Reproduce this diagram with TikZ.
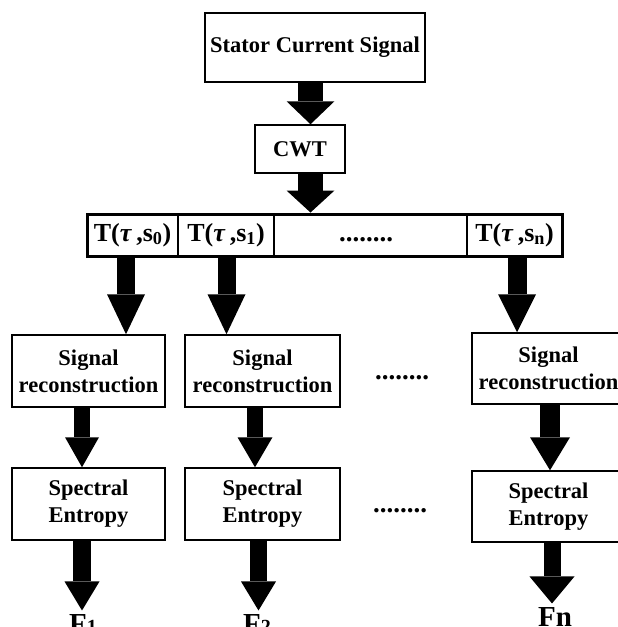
\documentclass[tikz,border=0pt]{standalone}
\usepackage{fontspec}
\setmainfont{Liberation Serif}
\usetikzlibrary{arrows.meta,calc}
\newcommand\Tlab[1]{T(\textit{τ}\,,s\textsubscript{#1})}
\begin{document}
\begin{tikzpicture}[x=1pt,y=-1pt,
  box/.style={draw, line width=1.5pt, fill=white, align=center, inner sep=0pt,
    font=\bfseries\fontsize{22.5}{27}\selectfont},
  cell/.style={draw, line width=1.2pt, inner sep=0pt, minimum height=42pt,
    font=\bfseries\fontsize{26}{27}\selectfont},
  fat/.style n args={3}{line width=#1, -{Triangle[width=#2,length=#3,line width=0pt]}},
  dots/.style={font=\bfseries\fontsize{27}{28}\selectfont},
  flab/.style={anchor=base, font=\bfseries\fontsize{29}{30}\selectfont}]
\useasboundingbox (0,0) rectangle (618,627);
\clip (0,0) rectangle (618,627);
% top
\node[box, minimum width=220pt, minimum height=69pt] (stator) at (315,47.5) {Stator Current Signal};
\node[box, minimum width=90pt, minimum height=48pt] (cwt) at (300,149) {CWT};
% bar cells
\node[cell, minimum width=91pt] (c0) at (132.5,235) {\Tlab{0}};
\node[cell, minimum width=96pt] (c1) at (226,235) {\Tlab{1}};
\node[cell, minimum width=193pt] (c2) at (370.5,235) {};
\node[cell, minimum width=95pt] (c3) at (514.5,235) {\Tlab{n}};
\node[dots] (bdots) at (366,240) {........};
\node[draw, line width=3pt, minimum width=475pt, minimum height=42pt, inner sep=0pt] (bar) at (324.5,235) {};
% signal reconstruction
\node[box, minimum width=153pt, minimum height=72pt] (sig1) at (88.5,371) {Signal\\reconstruction};
\node[box, minimum width=155pt, minimum height=72pt] (sig2) at (262.5,371) {Signal\\reconstruction};
\node[box, minimum width=153pt, minimum height=71pt, text width=153pt] (sig3) at (548.5,368.5) {Signal\\reconstruction};
\node[dots] (sdots) at (402,378) {........};
% spectral entropy
\node[box, minimum width=153pt, minimum height=72pt] (spe1) at (88.5,504) {Spectral\\Entropy};
\node[box, minimum width=155pt, minimum height=72pt] (spe2) at (262.5,504) {Spectral\\Entropy};
\node[box, minimum width=153pt, minimum height=71pt] (spe3) at (548.5,506.5) {Spectral\\Entropy};
\node[dots] (edots) at (400,511) {........};
% outputs
\node[flab] (f1) at (83,633) {F{\fontsize{20}{20}\selectfont 1}};
\node[flab] (f2) at (257,633) {F{\fontsize{20}{20}\selectfont 2}};
\node[flab] (fn) at (555,626) {Fn};
% arrow x positions
\coordinate (xa) at (310.5,0);
\coordinate (xb1) at (126,0);
\coordinate (xb2) at (226.5,0);
\coordinate (xb3) at (517,0);
\coordinate (xc1) at (82,0);
\coordinate (xc2) at (255,0);
\coordinate (xc3) at (550,0);
\coordinate (xd1) at (82,0);
\coordinate (xd2) at (258.5,0);
\coordinate (xd3) at (552,0);
% arrows
\draw[fat={25pt}{48pt}{23pt}] (xa |- stator.south) -- (xa |- cwt.north);
\draw[fat={25pt}{48pt}{22pt}] (xa |- cwt.south) -- (xa |- bar.north);
\draw[fat={18pt}{38pt}{40pt}] (xb1 |- bar.south) -- (xb1 |- sig1.north);
\draw[fat={18pt}{38pt}{40pt}] (xb2 |- bar.south) -- (xb2 |- sig2.north);
\draw[fat={19pt}{38pt}{38pt}] (xb3 |- bar.south) -- (xb3 |- sig3.north);
\draw[fat={16pt}{34pt}{30pt}] (xc1 |- sig1.south) -- (xc1 |- spe1.north);
\draw[fat={16pt}{35pt}{30pt}] (xc2 |- sig2.south) -- (xc2 |- spe2.north);
\draw[fat={20pt}{40pt}{33pt}] (xc3 |- sig3.south) -- (xc3 |- spe3.north);
\draw[fat={18pt}{35pt}{29pt}] (xd1 |- spe1.south) -- (xd1 |- f1.north);
\draw[fat={17pt}{35pt}{29pt}] (xd2 |- spe2.south) -- (xd2 |- f2.north);
\draw[fat={17pt}{45pt}{27pt}] (xd3 |- spe3.south) -- (xd3 |- fn.north);
\end{tikzpicture}
\end{document}
